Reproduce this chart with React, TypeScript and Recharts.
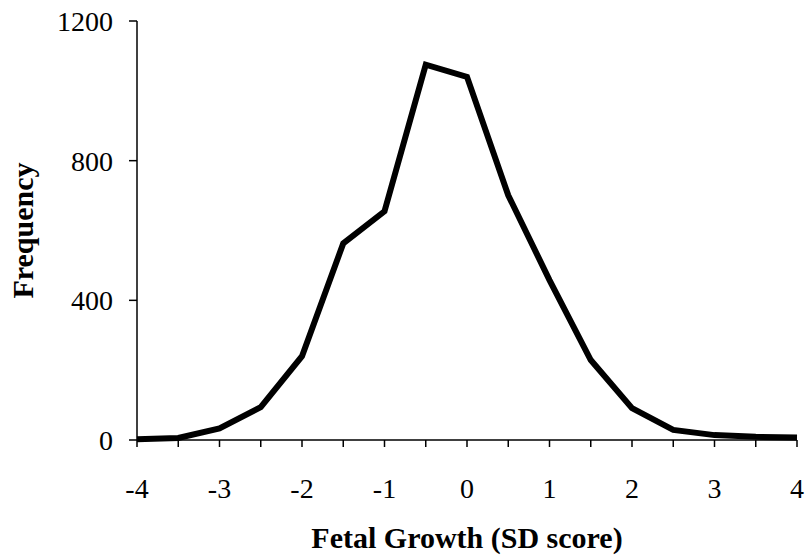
import React from 'react';
import { LineChart, Line, XAxis, YAxis, Label } from 'recharts';

const sdScores = [-4, -3.5, -3, -2.5, -2, -1.5, -1, -0.5, 0, 0.5, 1, 1.5, 2, 2.5, 3, 3.5, 4];
const frequencies = [2, 6, 33, 94, 240, 563, 655, 1075, 1040, 701, 458, 229, 91, 29, 14, 9, 7];
const yTicks = [0, 400, 800, 1200];
const xTicks = [-4, -3.5, -3, -2.5, -2, -1.5, -1, -0.5, 0, 0.5, 1, 1.5, 2, 2.5, 3, 3.5, 4];
const xTickLabels = ['-4', '', '-3', '', '-2', '', '-1', '', '0', '', '1', '', '2', '', '3', '', '4'];
const xTitle = 'Fetal Growth (SD score)';
const yTitle = 'Frequency';

const data = sdScores.map((x, i) => ({ x, freq: frequencies[i] }));

const FONT = '"Liberation Serif", "Times New Roman", serif';

const XTitle = (props: any) => {
  const vb = props.viewBox || { x: 137, y: 440, width: 660, height: 112 };
  return (
    <text
      x={vb.x + vb.width / 2}
      y={vb.y + 108}
      textAnchor="middle"
      fontFamily={FONT}
      fontWeight="bold"
      fontSize={30}
      fill="#000"
    >
      {xTitle}
    </text>
  );
};

const YTitle = (props: any) => {
  const vb = props.viewBox || { x: 37, y: 21, width: 100, height: 419 };
  const x = vb.x - 4;
  const y = vb.y + vb.height / 2;
  return (
    <text
      x={x}
      y={y}
      transform={`rotate(-90, ${x}, ${y})`}
      textAnchor="middle"
      fontFamily={FONT}
      fontWeight="bold"
      fontSize={30}
      fill="#000"
    >
      {yTitle}
    </text>
  );
};

export default function App() {
  return (
    <div style={{ width: 809, height: 560 }}>
      <style>{'html,body{margin:0;padding:0;overflow:hidden;background:#fff;}'}</style>
      <LineChart
        width={809}
        height={560}
        data={data}
        margin={{ top: 21, right: 12, left: 37, bottom: 8 }}
      >
        <XAxis
          dataKey="x"
          type="number"
          domain={[-4, 4]}
          ticks={xTicks}
          tickFormatter={(v: number) => xTickLabels[xTicks.indexOf(v)] ?? ''}
          interval={0}
          height={112}
          tickSize={7}
          tickMargin={31}
          axisLine={{ stroke: '#000', strokeWidth: 1.5 }}
          tickLine={{ stroke: '#000', strokeWidth: 1.5 }}
          tick={{ fill: '#000', fontSize: 28, fontFamily: FONT }}
        >
          <Label content={<XTitle />} />
        </XAxis>
        <YAxis
          type="number"
          domain={[0, 1200]}
          ticks={yTicks}
          interval={0}
          width={100}
          tickSize={8}
          tickMargin={16}
          axisLine={{ stroke: '#000', strokeWidth: 1.5 }}
          tickLine={{ stroke: '#000', strokeWidth: 1.5 }}
          tick={{ fill: '#000', fontSize: 28, fontFamily: FONT }}
        >
          <Label content={<YTitle />} />
        </YAxis>
        <Line
          type="linear"
          dataKey="freq"
          stroke="#000"
          strokeWidth={6}
          strokeLinejoin="miter"
          dot={false}
          activeDot={false}
          isAnimationActive={false}
        />
      </LineChart>
    </div>
  );
}
